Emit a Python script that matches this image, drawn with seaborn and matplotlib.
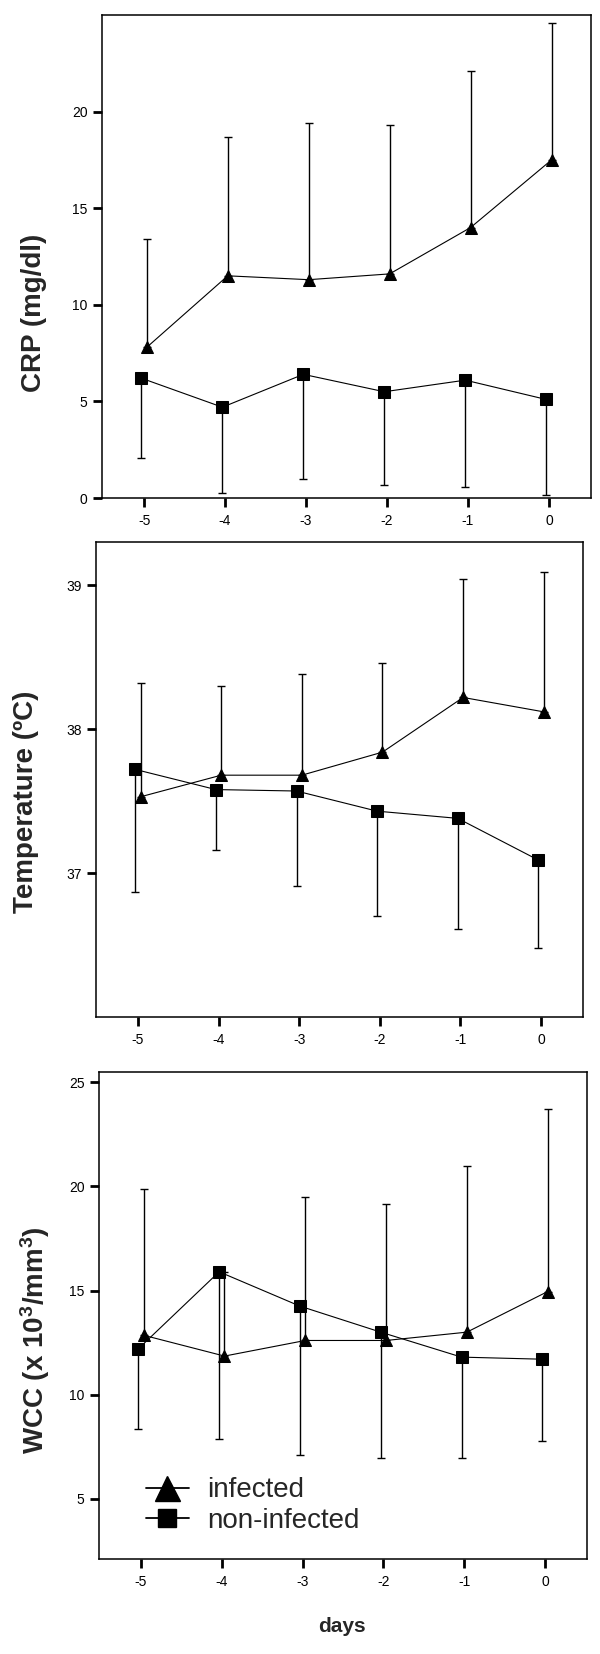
import numpy as np
import pandas as pd
import matplotlib
matplotlib.use("Agg")
import matplotlib.pyplot as plt
import seaborn as sns

# values
days = [-5, -4, -3, -2, -1, 0]
groups = ["infected", "non-infected"]

crp_inf = [7.8, 11.5, 11.3, 11.6, 14.0, 17.5]
crp_inf_up = [13.4, 18.7, 19.4, 19.3, 22.1, 24.6]
crp_non = [6.2, 4.7, 6.4, 5.5, 6.1, 5.1]
crp_non_lo = [2.05, 0.25, 1.0, 0.65, 0.55, 0.15]

temp_inf = [37.53, 37.68, 37.68, 37.84, 38.22, 38.12]
temp_inf_up = [38.32, 38.30, 38.38, 38.46, 39.04, 39.09]
temp_non = [37.72, 37.58, 37.57, 37.43, 37.38, 37.09]
temp_non_lo = [36.87, 37.16, 36.91, 36.70, 36.61, 36.48]

wcc_inf = [12.85, 11.85, 12.6, 12.6, 13.0, 14.95]
wcc_inf_up = [19.9, 15.9, 19.5, 19.15, 21.0, 23.7]
wcc_non = [12.2, 15.9, 14.25, 13.0, 11.8, 11.7]
wcc_non_lo = [8.35, 7.85, 7.1, 6.95, 6.95, 7.75]

panels = [
    ("CRP (mg/dl)", crp_inf, crp_inf_up, crp_non, crp_non_lo, (0, 25.0), [0, 5, 10, 15, 20]),
    ("Temperature (ºC)", temp_inf, temp_inf_up, temp_non, temp_non_lo, (36.0, 39.3), [37, 38, 39]),
    (r"WCC (x 10$^3$/mm$^3$)", wcc_inf, wcc_inf_up, wcc_non, wcc_non_lo, (2.1, 25.5), [5, 10, 15, 20, 25]),
]

sns.set_style("ticks")
plt.rcParams["font.family"] = ["Liberation Sans", "DejaVu Sans"]
plt.rcParams["mathtext.fontset"] = "custom"
plt.rcParams["mathtext.rm"] = "Liberation Sans:bold"
plt.rcParams["mathtext.bf"] = "Liberation Sans:bold"
plt.rcParams["mathtext.default"] = "bf"

W, H = 600, 1654
fig = plt.figure(figsize=(W / 100, H / 100), dpi=100)

# axes boxes in pixels (left, top, right, bottom)
boxes = [(102, 15, 591, 498), (96, 542, 583, 1017), (99, 1072, 587, 1559)]
label_pos = [(34, 313), (26, 802), (35, 1340)]
shift = {"infected": 0.033, "non-infected": -0.033}

for i, (ylab, inf, inf_up, non, non_lo, ylim, yt) in enumerate(panels):
    l, t, r, b = boxes[i]
    ax = fig.add_axes([l / W, 1 - b / H, (r - l) / W, (b - t) / H])

    df = pd.DataFrame({
        "day": days * 2,
        "group": ["infected"] * 6 + ["non-infected"] * 6,
        "value": inf + non,
    })
    df["x"] = df["day"] + df["group"].map(shift)

    sns.lineplot(data=df, x="x", y="value", hue="group", style="group",
                 palette=["black", "black"], markers={"infected": "^", "non-infected": "s"},
                 dashes=False, markersize=9, linewidth=0.8, markeredgecolor="black",
                 estimator=None, sort=False, legend=False, ax=ax)

    xi = np.array(days) + shift["infected"]
    xn = np.array(days) + shift["non-infected"]
    up = np.array(inf_up) - np.array(inf)
    lo = np.array(non) - np.array(non_lo)
    ax.errorbar(xi, inf, yerr=[np.zeros(6), up], fmt="none", ecolor="black",
                elinewidth=1.0, capsize=3, capthick=1.0)
    ax.errorbar(xn, non, yerr=[lo, np.zeros(6)], fmt="none", ecolor="black",
                elinewidth=1.0, capsize=3, capthick=1.0)

    ax.set_xlim(-5.52, 0.52)
    ax.set_ylim(*ylim)
    ax.set_xticks(days)
    ax.set_xticklabels([str(d) for d in days])
    ax.set_yticks(yt)
    ax.set_xlabel("")
    ax.set_ylabel("")
    for s in ax.spines.values():
        s.set_visible(True)
        s.set_linewidth(1.1)
        s.set_color("black")
    ax.tick_params(direction="out", length=6.5, width=2.0, labelsize=10,
                   pad=4, colors="black")
    ax.tick_params(axis="x", pad=5)

    lx, ly = label_pos[i]
    fig.text(lx / W, 1 - ly / H, ylab, rotation=90, ha="center", va="center",
             fontsize=20, fontweight="bold")

    if i == 2:
        from matplotlib.lines import Line2D
        handles = [
            Line2D([], [], color="black", marker="^", markersize=18, linewidth=1.3),
            Line2D([], [], color="black", marker="s", markersize=13, linewidth=1.3),
        ]
        ax.legend(handles, groups, loc="center left", bbox_to_anchor=(0.096, 0.11),
                  frameon=False, fontsize=20, handlelength=1.55, handletextpad=0.65,
                  labelspacing=0.15, borderpad=0, borderaxespad=0)

fig.text(342 / W, 1 - 1626 / H, "days", ha="center", va="center",
         fontsize=15, fontweight="bold")

fig.savefig("out.png", dpi=100)
